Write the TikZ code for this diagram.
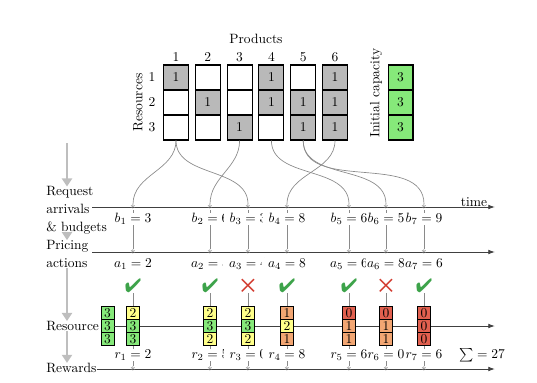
\documentclass[tikz,border=0pt]{standalone}
\usepackage{pifont}
\usetikzlibrary{arrows.meta}
\definecolor{usedgrey}{HTML}{B9B9B9}
\definecolor{capgreen}{HTML}{86E97A}
\definecolor{lowyellow}{HTML}{FFFF8A}
\definecolor{lastorange}{HTML}{F2A673}
\definecolor{emptyred}{HTML}{E2604F}
\definecolor{okgreen}{HTML}{3DA34A}
\definecolor{nored}{HTML}{D23A2E}
\definecolor{flowgrey}{HTML}{BEBEBE}
\definecolor{linkgrey}{HTML}{8A8A8A}
\definecolor{axisgrey}{HTML}{404040}

\tikzset{
  cell0/.style={draw, line width=0.8pt, minimum width=18.5pt, minimum height=18.5pt, inner sep=0pt, fill=white},
  cell1/.style={cell0, fill=usedgrey},
  capcell/.style={cell0, fill=capgreen},
  lvl/.style={draw, line width=0.5pt, minimum width=9.6pt, minimum height=9.6pt, inner sep=0pt},
  lvl0/.style={lvl, fill=emptyred},
  lvl1/.style={lvl, fill=lastorange},
  lvl2/.style={lvl, fill=lowyellow},
  lvl3/.style={lvl, fill=capgreen},
  flow/.style={draw=flowgrey, line width=1.6pt, -{Triangle[width=7.5pt,length=6pt]}},
  axis/.style={draw=axisgrey, line width=0.7pt, -{Latex[length=5pt,width=3.5pt]}},
  link/.style={draw=linkgrey, line width=0.5pt},
  ast/.style={inner sep=0pt, text=linkgrey, font=\footnotesize},
  val/.style={fill=white, inner sep=0.5pt},
  valw/.style={val, inner xsep=4.5pt},
  lbl/.style={anchor=west, inner sep=0pt, align=left},
  ok/.style={text=okgreen, font=\Large, inner sep=0pt},
  no/.style={text=nored, font=\Large, inner sep=0pt},
}

\begin{document}
\begin{tikzpicture}[x=0.02607cm, y=0.02607cm]
  \useasboundingbox (0,0) rectangle (537,-382);

  % === Products x resources matrix ===
  \node (prodhead) at (256,-39) {Products};
  \foreach \c/\ra/\rb/\rc in {1/1/0/0, 2/0/1/0, 3/0/0/1, 4/1/1/0, 5/0/1/1, 6/1/1/1} {
    \pgfmathsetmacro\px{144.2+31.8*\c}
    \node (n\c) at (\px,-57) {\c};
    \node[cell\ra] (m\c-1) at (\px,-77.5) {\ifnum\ra=1 1\fi};
    \node[cell\rb] (m\c-2) at (\px,-102.5) {\ifnum\rb=1 1\fi};
    \node[cell\rc] (m\c-3) at (\px,-127.5) {\ifnum\rc=1 1\fi};
  }
  \foreach \k/\y in {1/-77.5, 2/-102.5, 3/-127.5}
    \node (k\k) at (152,\y) {\k};
  \node[rotate=90] (reshead) at (138,-102.5) {Resources};

  % Initial capacity
  \node[rotate=90] (caphead) at (376,-93) {Initial capacity};
  \foreach \k/\y in {1/-77.5, 2/-102.5, 3/-127.5}
    \node[capcell] (q\k) at (400.5,\y) {3};

  % === Row labels and grey flow ===
  \node[lbl] (lreq) at (46,-210.7) {Request\\[1.3pt]arrivals\\[1.3pt]\& budgets};
  \node[lbl] (lprice) at (46,-254) {Pricing\\[1.3pt]actions};
  \node[lbl] (lres) at (46,-326) {Resource};
  \node[lbl] (lrew) at (46,-368) {Rewards};

  \coordinate (flowtop) at (67,-143);
  \draw[flow] (flowtop) -- (flowtop |- lreq.north);
  \draw[flow] (flowtop |- lreq.south) -- (flowtop |- lprice.north);
  \draw[flow] (flowtop |- lprice.south) -- (flowtop |- lres.north);
  \draw[flow] (flowtop |- lres.south) -- (flowtop |- lrew.north);

  % === Time axes ===
  \coordinate (arrstart) at (92,-207);  \coordinate (arrend) at (495,-207);
  \coordinate (pristart) at (92,-252);  \coordinate (priend) at (495,-252);
  \coordinate (resend) at (495,-326);   \coordinate (rewend) at (495,-369);
  \draw[axis] (arrstart) -- (arrend);
  \draw[axis] (pristart) -- (priend);
  \draw[axis] (lrew.east |- rewend) -- (rewend);

  % points in time, accept (51) or reject (53)
  \foreach \i/\x/\d/\g in {1/133/ok/52, 2/210/ok/52, 3/248/no/53, 4/287/ok/52, 5/349/ok/52, 6/386/no/53, 7/424/ok/52} {
    \node[ast] (arr\i) at (\x,-207) {$\ast$};
    \node[ast] (pri\i) at (\x,-252) {$\ast$};
    \node[ast] (rew\i) at (\x,-369) {$\ast$};
    \node[\d] (chk\i) at (\x,-286) {\ding{\g}};
    \draw[link] (arr\i) -- (pri\i);
    \draw[link] (chk\i) -- (rew\i);
  }

  % requested product of each arrival
  \foreach \p/\i in {1/1, 3/2, 1/3, 6/4, 4/5, 5/6, 5/7}
    \draw[link] (m\p-3.south) to[out=-90,in=90] (arr\i);

  % === Remaining capacity ===
  \foreach \k/\y in {1/-313, 2/-326, 3/-339}
    \node[lvl3] (z-\k) at (107.5,\y) {3};
  \draw[axis] (z-2.east) -- (resend);
  \foreach \i/\x/\u/\v/\w in {1/133/2/3/3, 2/210/2/3/2, 3/248/2/3/2, 4/287/1/2/1, 5/349/0/1/1, 6/386/0/1/1, 7/424/0/0/0} {
    \node[lvl\u] (s\i-1) at (\x,-313) {\u};
    \node[lvl\v] (s\i-2) at (\x,-326) {\v};
    \node[lvl\w] (s\i-3) at (\x,-339) {\w};
  }

  % budgets, prices, rewards
  \foreach \i/\x/\b/\a/\r/\s in {1/133/3/2/2/val, 2/210/6/5/5/val, 3/248/3/4/0/valw, 4/287/8/8/8/valw, 5/349/6/6/6/val, 6/386/5/8/0/val, 7/424/9/6/6/val} {
    \node[\s] (b\i) at (\x,-219) {$b_{\i} = \b$};
    \node[\s] (a\i) at (\x,-264) {$a_{\i} = \a$};
    \node[\s] (r\i) at (\x,-355) {$r_{\i} = \r$};
  }

  \node[anchor=base] (timelbl) at (474,-206) {time};
  \node (total) at (482,-355) {$\sum = 27$};

\end{tikzpicture}
\end{document}
